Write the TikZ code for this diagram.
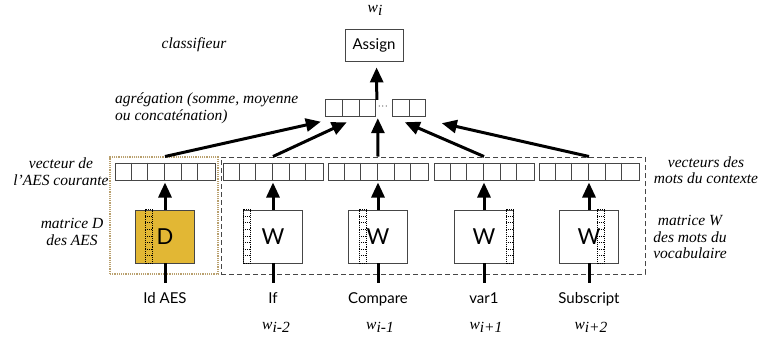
\documentclass[tikz,border=0pt]{standalone}
\usepackage{fontspec}
\setmainfont{Liberation Serif}
\setsansfont{Lato}
\usetikzlibrary{arrows.meta,calc}
\definecolor{gold}{RGB}{226,183,52}
\definecolor{tanc}{RGB}{185,160,110}
\definecolor{cellc}{RGB}{70,70,70}
\newcommand\dcol[2]{%
  \draw[densely dotted,line width=0.9pt] ($(#1.north west)+(#2,0)$) rectangle ($(#1.south west)+(#2+7,0)$);
  \foreach \k in {1,...,7} \draw[densely dotted,line width=0.9pt] ($(#1.north west)+(#2,\k*6.6)$) -- ++(7,0);}
\begin{document}
\begin{tikzpicture}[x=1pt,y=-1pt,
  vec/.style={draw=cellc,line width=1pt,minimum width=100pt,minimum height=17pt,inner sep=0pt},
  mbox/.style={draw=cellc,line width=0.9pt,minimum width=59pt,minimum height=53pt,inner sep=0pt,font=\sffamily\fontsize{22}{22}\selectfont},
  arr/.style={line width=3pt,-{Triangle[length=15pt,width=13pt]}},
  feed/.style={line width=3pt},
  lbl/.style={font=\itshape\fontsize{15.5}{16.5}\selectfont,align=center,inner sep=0pt},
  wlbl/.style={font=\sffamily\fontsize{15}{15}\selectfont,inner sep=0pt,text height=11pt,text depth=3pt,anchor=north},
  wsym/.style={font=\itshape\fontsize{15.5}{16}\selectfont,inner sep=0pt},
]
\useasboundingbox (0,0) rectangle (761,338);

% grouping boxes
\node[draw=tanc,densely dotted,line width=1.2pt,minimum width=108pt,minimum height=117pt,inner sep=0pt] (dgrp) at (164,215.5) {};
\node[draw=cellc,dash pattern=on 5pt off 3pt,line width=1pt,minimum width=424pt,minimum height=117pt,inner sep=0pt] (ctx) at (433,215.5) {};

% vectors
\foreach \n/\x in {v1/165,v2/273,v3/378,v4/484,v5/589}{
  \node[vec] (\n) at (\x,171.5) {};
  \foreach \i in {1,...,5}
    \draw[cellc,line width=1pt] ($(\n.north west)+(\i*16.667,0)$) -- ($(\n.south west)+(\i*16.667,0)$);
}

% matrices
\node[mbox,fill=gold] (m1) at (165,236.5) {D};
\node[mbox,fill=white] (m2) at (273,236.5) {W};
\node[mbox,fill=white] (m3) at (378,236.5) {W};
\node[mbox,fill=white] (m4) at (484,236.5) {W};
\node[mbox,fill=white] (m5) at (589,236.5) {W};
\dcol{m1}{10}
\dcol{m2}{0}
\dcol{m3}{11}
\dcol{m4}{52}
\dcol{m5}{38}

% inputs
\node[wlbl] (i1) at (165,292) {Id AES};
\node[wlbl] (i2) at (273,292) {If};
\node[wlbl] (i3) at (378,292) {Compare};
\node[wlbl] (i4) at (484,292) {var1};
\node[wlbl] (i5) at (589,292) {Subscript};
\foreach \k in {1,...,5}{
  \draw[feed,shorten >=9pt] (m\k.south) -- (i\k.north);
  \draw[arr,shorten >=2pt] (m\k.north) -- (v\k.south);
}

% word symbols
\node[wsym] (w1) at (276,327) {w\raisebox{-2.5pt}{i-2}};
\node[wsym] (w2) at (380,327) {w\raisebox{-2.5pt}{i-1}};
\node[wsym] (w4) at (486,327) {w\raisebox{-2.5pt}{i+1}};
\node[wsym] (w5) at (591,327) {w\raisebox{-2.5pt}{i+2}};
\node[wsym] (wi) at (375,10) {w\raisebox{-2.5pt}{i}};

% aggregation
\node[minimum width=100pt,minimum height=16pt,inner sep=0pt] (agg) at (376,108) {};
\foreach \i in {0,1,2}
  \draw[cellc,line width=1pt] ($(agg.north west)+(\i*16.667,0)$) rectangle ($(agg.south west)+(\i*16.667+16.667,0)$);
\foreach \i in {0,1}
  \draw[cellc,line width=1pt] ($(agg.north west)+(67+\i*16.5,0)$) rectangle ($(agg.south west)+(67+\i*16.5+16.5,0)$);
\foreach \d in {53.5,57,60.5}
  \fill[cellc] ($(agg.west)+(\d,-2)$) circle (0.6pt);

% Assign
\node[draw=cellc,line width=0.9pt,minimum width=58pt,minimum height=32pt,inner sep=0pt,font=\sffamily\fontsize{15}{15}\selectfont] (asg) at (374,45) {Assign};
\draw[arr,shorten >=6pt] ($(agg.north west)+(51,0)$) -- ($(asg.south west)+(32,0)$);

% connectors to aggregation
\draw[arr] (v1.north |- ctx.north) -- ($(agg.south west)+(-5,5.5)$);
\draw[arr] (v2.north |- ctx.north) -- ($(agg.south west)+(21,6)$);
\draw[arr] (v3.north |- ctx.north) -- ($(agg.south west)+(52,2)$);
\draw[arr] (v4.north |- ctx.north) -- ($(agg.south west)+(79,6)$);
\draw[arr] (v5.north |- ctx.north) -- ($(agg.south west)+(116,7)$);

% annotations
\node[lbl] (lcls) at (194,45) {classifieur};
\node[lbl,align=left,anchor=west] (lagg) at (115,108.5) {agrégation (somme, moyenne\\ou concaténation)};
\node[lbl] (lvec) at (61,171.5) {vecteur de\\l’AES courante};
\node[lbl] (lmd) at (72,232) {matrice D\\des AES};
\node[lbl] (lctx) at (706,170) {vecteurs des\\mots du contexte};
\node[lbl] (lmw) at (690,237) {matrice W\\des mots du\\vocabulaire};
\end{tikzpicture}
\end{document}
